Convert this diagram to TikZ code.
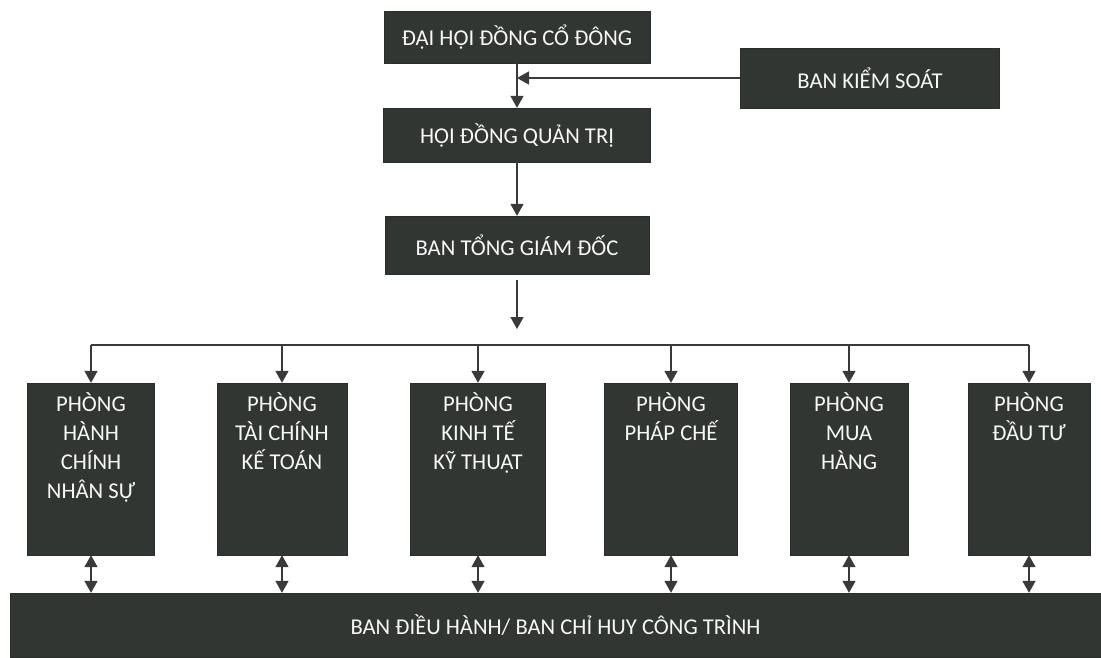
\documentclass[tikz,border=0pt]{standalone}
\usepackage{fontspec}
\setmainfont{Carlito}
\usetikzlibrary{arrows.meta,positioning,calc}
\definecolor{fondocaja}{HTML}{313632}
\definecolor{linea}{HTML}{3A3A3A}

\tikzset{
  caja/.style={fill=fondocaja, draw=fondocaja!85!black, text=white!94!gray,
    inner sep=0pt, font=\fontsize{22.6}{29}\selectfont},
  flecha/.style={draw=linea, line width=1.6pt, -{Triangle[width=13pt,length=12pt]}},
  doble/.style={draw=linea, line width=1.6pt,
    {Triangle[width=13pt,length=12pt]}-{Triangle[width=13pt,length=12pt]}},
}

\begin{document}
\begin{tikzpicture}[x=1pt, y=-1pt]
			\useasboundingbox (0,0) rectangle (1101,657);

			% --- Cấp trên ---
			\node[caja, minimum width=266, minimum height=52] (dhd)  at (517, 37)  {ĐẠI HỘI ĐỒNG CỔ ĐÔNG};
			\node[caja, minimum width=259, minimum height=60] (bks)  at (870, 78)  {BAN KIỂM SOÁT};
			\node[caja, minimum width=267, minimum height=54] (hdqt) at (517, 135) {HỘI ĐỒNG QUẢN TRỊ};
			\node[caja, minimum width=264, minimum height=58] (btgd) at (517, 245) {BAN TỔNG GIÁM ĐỐC};

			% --- Flechas verticales ---
			\draw[flecha] (dhd) -- (hdqt);
			\draw[flecha] (bks.west) -- (bks.west -| dhd.south);
			\draw[flecha] (hdqt) -- (btgd);
			\coordinate (bus) at (517, 345);
			\draw[flecha, shorten <=6pt, shorten >=16pt] (btgd) -- (bus);

			% --- Phòng ban ---
			\foreach \n/\x/\w/\txt in {p1/91/127/{PHÒNG\\HÀNH\\CHÍNH\\NHÂN SỰ},
					p2/282/130/{PHÒNG\\TÀI CHÍNH\\KẾ TOÁN},
					p3/478/135/{PHÒNG\\KINH TẾ\\KỸ THUẬT},
					p4/671/133/{PHÒNG\\PHÁP CHẾ},
					p5/849/118/{PHÒNG\\MUA\\HÀNG},
					p6/1029/122/{PHÒNG\\ĐẦU TƯ}}{
					\node[caja, minimum width=\w, minimum height=172,
						label={[anchor=north, yshift=-6pt, align=center, text=white!94!gray,
								font=\fontsize{22.6}{29}\selectfont]north:\txt}] (\n) at (\x, 469) {};
				}

			% Barra horizontal
			\draw[draw=linea, line width=1.6pt] (p1.north |- bus) -- (p6.north |- bus);
			\foreach \n in {p1,p2,p3,p4,p5,p6}{
					\draw[flecha] (\n.north |- bus) -- (\n.north);
				}

			% --- Ban điều hành ---
			\node[caja, minimum width=1091, minimum height=64] (bdh) at (555.5, 625)
			{BAN ĐIỀU HÀNH/ BAN CHỈ HUY CÔNG TRÌNH};
			\foreach \n in {p1,p2,p3,p4,p5,p6}{
					\draw[doble] (\n.south) -- (\n.south |- bdh.north);
				}
		\end{tikzpicture}
\end{document}
